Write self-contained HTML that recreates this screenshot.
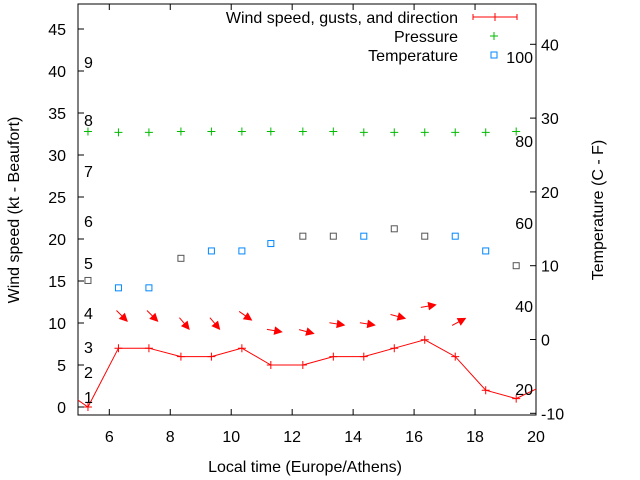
<!DOCTYPE html>
<html><head><meta charset="utf-8"><style>
html,body{margin:0;padding:0;background:#fff}
svg{display:block;font-family:"Liberation Sans",sans-serif}
</style></head><body>
<svg id="c" width="640" height="480" viewBox="0 0 640 480">
<defs><clipPath id="clip"><rect x="78" y="4" width="458" height="411"/></clipPath></defs>
<g id="grid"></g>
<g id="marks" clip-path="url(#clip)"></g>
<g id="labels"></g>
</svg>
<script>
const times=[5.3,6.3,7.3,8.35,9.35,10.35,11.3,12.35,13.35,14.35,15.35,16.35,17.35,18.35,19.35];
const wind=[0,7,7,6,6,7,5,5,6,6,7,8,6,2,1];
const windBefore=[4.9,1];
const windAfter=[20.5,3];
const pressure=[32.8,32.7,32.7,32.8,32.8,32.8,32.8,32.8,32.8,32.7,32.7,32.7,32.7,32.7,32.8];
const temps=[8,7,7,11,12,12,13,14,14,14,15,14,14,12,10];
const tempGrey=[1,0,0,1,0,0,0,1,1,0,1,1,0,0,1];
const arrowTimes=[6.3,7.3,8.35,9.35,10.35,11.3,12.35,13.35,14.35,15.35,16.35,17.35];
const arrowAngles=[45,45,50,50,35,10,15,9,9,15,-10,-28];
const arrowLevels=[10.9,10.9,10.0,10.0,10.9,9.1,9.0,9.9,9.9,10.8,12.0,10.1];
const xTicks=[6,8,10,12,14,16,18,20];
const yTicks=[0,5,10,15,20,25,30,35,40,45];
const y2Ticks=[-10,0,10,20,30,40];
const beaufort=[["1",397],["2",372],["3",347],["4",313],["5",263],["6",221],["7",171],["8",120],["9",62]];
const fahr=[["100",57],["80",141],["60",223],["40",306],["20",389]];

const FS=16;
const L=78,R=536,T=4,B=415;
const X=v=>109.3+(v-6)*(536-109.3)/14;
const Y=v=>407-v*8.4;
const Y2=v=>339.5-v*7.38;
const NS="http://www.w3.org/2000/svg";
function mk(tag,attrs,parent,text){const e=document.createElementNS(NS,tag);for(const k in attrs)e.setAttribute(k,attrs[k]);if(text!==undefined)e.textContent=text;document.getElementById(parent).appendChild(e);return e;}

let e=mk('rect',{x:L,y:T,width:R-L,height:B-T,fill:'none',stroke:'#000','stroke-width':1},'grid');


xTicks.forEach(t=>{const x=X(t);
 mk('line',{x1:x,y1:B,x2:x,y2:B-6,stroke:'#000'},'grid');
 mk('line',{x1:x,y1:T,x2:x,y2:T+6,stroke:'#000'},'grid');
 const tx=mk('text',{x:x,y:442,'text-anchor':'middle','font-size':FS,fill:'#000'},'labels',String(t));
 
 
});
yTicks.forEach(t=>{const y=Y(t);
 mk('line',{x1:L,y1:y,x2:L+6,y2:y,stroke:'#000'},'grid');
 const tx=mk('text',{x:66,y:y+6,'text-anchor':'end','font-size':FS,fill:'#000'},'labels',String(t));
 
 
});
y2Ticks.forEach(t=>{const y=Y2(t);
 mk('line',{x1:R,y1:y,x2:R-6,y2:y,stroke:'#000'},'grid');
 const tx=mk('text',{x:541,y:y+6,'text-anchor':'start','font-size':FS,fill:'#000'},'labels',String(t));
 
 
});
beaufort.forEach(b=>{const tx=mk('text',{x:84,y:b[1]+6,'font-size':FS,fill:'#000'},'labels',b[0]);
 
 });
fahr.forEach(b=>{const tx=mk('text',{x:533,y:b[1]+6,'text-anchor':'end','font-size':FS,fill:'#000'},'labels',b[0]);
 
 });

let pts=[[X(windBefore[0]),Y(windBefore[1])]];
times.forEach((t,i)=>pts.push([X(t),Y(wind[i])]));
pts.push([X(windAfter[0]),Y(windAfter[1])]);
e=mk('polyline',{points:pts.map(p=>p.join(',')).join(' '),fill:'none',stroke:'#f00','stroke-width':1},'marks');


times.forEach((t,i)=>{const x=X(t),y=Y(wind[i]);
 e=mk('path',{d:`M${x-4},${y}h8M${x},${y-4}v8`,stroke:'#f00','stroke-width':1},'marks');
 
 
});
arrowTimes.forEach((t,i)=>{const a=arrowAngles[i]*Math.PI/180;const cx=X(t)+3,cy=Y(arrowLevels[i]);
 const dx=Math.cos(a)*7,dy=Math.sin(a)*7;const x1=cx-dx,y1=cy-dy,x2=cx+dx,y2=cy+dy;
 const hx=Math.cos(a),hy=Math.sin(a);const px=-hy,py=hx;
 const g=mk('g',{},'marks');
 
 
 const l=document.createElementNS(NS,'line');l.setAttribute('x1',x1);l.setAttribute('y1',y1);l.setAttribute('x2',x2);l.setAttribute('y2',y2);l.setAttribute('stroke','#f00');g.appendChild(l);
 const p=document.createElementNS(NS,'polygon');
 p.setAttribute('points',`${x2+hx},${y2+hy} ${x2-hx*6+px*3.5},${y2-hy*6+py*3.5} ${x2-hx*6-px*3.5},${y2-hy*6-py*3.5}`);p.setAttribute('fill','#f00');p.setAttribute('stroke','#f00');g.appendChild(p);
});
times.forEach((t,i)=>{const x=X(t),y=Y(pressure[i]);
 e=mk('path',{d:`M${x-4},${y}h8M${x},${y-4}v8`,stroke:'#0b0','stroke-width':1},'marks');
 
 
});
times.forEach((t,i)=>{const x=X(t),y=Y2(temps[i]);
 e=mk('rect',{x:x-3,y:y-3,width:6,height:6,fill:'none',stroke:tempGrey[i]?'#555':'#08f','stroke-width':1},'marks');
 
 
});
[["Wind speed, gusts, and direction",17],["Pressure",36],["Temperature",55]].forEach((l,i)=>{
 const tx=mk('text',{x:458,y:l[1]+6,'text-anchor':'end','font-size':FS,fill:'#000'},'labels',l[0]);
 
 });
e=mk('path',{d:'M473,17h44M473,14v6M517,14v6M495,13v8',stroke:'#f00',fill:'none'},'labels');


e=mk('path',{d:'M490,36h8M494,32v8',stroke:'#0b0'},'labels');


e=mk('rect',{x:491,y:52,width:6,height:6,fill:'none',stroke:'#08f'},'labels');


e=mk('text',{x:305,y:472,'text-anchor':'middle','font-size':FS,fill:'#000'},'labels','Local time (Europe/Athens)');


e=mk('text',{x:0,y:0,'text-anchor':'middle','font-size':FS,fill:'#000',transform:'translate(19,210) rotate(-90)'},'labels','Wind speed (kt - Beaufort)');


e=mk('text',{x:0,y:0,'text-anchor':'middle','font-size':FS,fill:'#000',transform:'translate(603,210) rotate(-90)'},'labels','Temperature (C - F)');


</script>
</body></html>
